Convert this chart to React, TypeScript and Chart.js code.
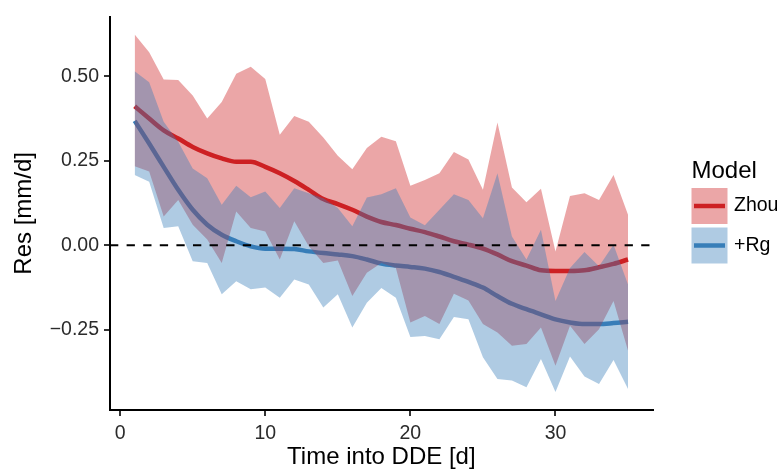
import React, { useEffect, useRef } from "react";
import { Chart, registerables } from "chart.js";

Chart.register(...registerables);

// ---------- data ----------
const days = [1, 2, 3, 4, 5, 6, 7, 8, 9, 10, 11, 12, 13, 14, 15, 16, 17, 18, 19, 20, 21, 22, 23, 24, 25, 26, 27, 28, 29, 30, 31, 32, 33, 34, 35];

const zhouUpper = [0.623, 0.571, 0.49, 0.489, 0.443, 0.375, 0.424, 0.507, 0.528, 0.492, 0.327, 0.382, 0.365, 0.319, 0.265, 0.225, 0.288, 0.321, 0.308, 0.176, 0.193, 0.213, 0.276, 0.254, 0.164, 0.363, 0.171, 0.127, 0.167, -0.018, 0.146, 0.154, 0.134, 0.208, 0.09];
const zhouLower = [0.234, 0.218, 0.085, 0.134, 0.061, 0.017, -0.052, 0.1, 0.051, 0.041, -0.042, 0.071, -0.003, -0.052, -0.045, -0.15, -0.081, -0.052, -0.067, -0.228, -0.209, -0.233, -0.143, -0.163, -0.233, -0.258, -0.297, -0.292, -0.243, -0.356, -0.238, -0.292, -0.248, -0.165, -0.312];
const zhouFit = [0.411, 0.375, 0.34, 0.316, 0.291, 0.272, 0.257, 0.247, 0.247, 0.232, 0.213, 0.19, 0.164, 0.137, 0.122, 0.105, 0.085, 0.069, 0.06, 0.049, 0.039, 0.026, 0.012, 0.002, -0.01, -0.027, -0.047, -0.06, -0.074, -0.076, -0.076, -0.074, -0.065, -0.055, -0.042];

const rgUpper = [0.515, 0.482, 0.365, 0.306, 0.227, 0.198, 0.12, 0.176, 0.142, 0.159, 0.11, 0.169, 0.154, 0.139, 0.11, 0.056, 0.141, 0.151, 0.169, 0.082, 0.059, 0.105, 0.151, 0.134, 0.08, 0.213, 0.026, -0.042, 0.046, -0.165, -0.067, -0.02, -0.062, 0.002, -0.116];
const rgLower = [0.208, 0.188, 0.051, 0.056, -0.047, -0.052, -0.145, -0.106, -0.13, -0.125, -0.155, -0.101, -0.116, -0.184, -0.145, -0.243, -0.17, -0.126, -0.155, -0.271, -0.268, -0.278, -0.212, -0.219, -0.331, -0.395, -0.4, -0.42, -0.336, -0.434, -0.329, -0.388, -0.41, -0.339, -0.425];
const rgFit = [0.368, 0.301, 0.232, 0.164, 0.105, 0.061, 0.031, 0.012, -0.003, -0.01, -0.01, -0.011, -0.018, -0.023, -0.027, -0.032, -0.042, -0.054, -0.06, -0.064, -0.069, -0.079, -0.093, -0.108, -0.125, -0.15, -0.173, -0.189, -0.204, -0.219, -0.228, -0.233, -0.233, -0.23, -0.226];

const xTicks = [0, 10, 20, 30];
const yTicks = [-0.25, 0, 0.25, 0.5];
const xRange = [-0.7, 36.7];
const yRange = [-0.487, 0.676];
const referenceLine = [0];

const seriesNames = ["Zhou", "+Rg"];
const legendTitle = "Model";
const xTitle = "Time into DDE [d]";
const yTitle = "Res [mm/d]";

// ---------- styles ----------
const FONT = '"Liberation Sans", Arial, Helvetica, sans-serif';
const RED = "205, 32, 35";
const BLUE = "55, 126, 184";
const seriesColors = [RED, BLUE];
const RIBBON_ALPHA = 0.4;

const W = 781;
const H = 469;

const pts = (ys: number[]) => days.map((d, i) => ({ x: d, y: ys[i] }));

const legendPlugin = {
  id: "ggLegend",
  afterDraw(chart: any) {
    const ctx = chart.ctx;
    ctx.save();
    ctx.fillStyle = "#000";
    ctx.font = `24px ${FONT}`;
    ctx.textAlign = "left";
    ctx.textBaseline = "alphabetic";
    ctx.fillText(legendTitle, 691.5, 178);
    seriesNames.forEach((name, i) => {
      const y0 = 188 + i * 39.5;
      ctx.fillStyle = `rgba(${seriesColors[i]}, ${RIBBON_ALPHA})`;
      ctx.fillRect(691.5, y0, 36, 36);
      ctx.strokeStyle = `rgb(${seriesColors[i]})`;
      ctx.lineWidth = 4.5;
      ctx.lineCap = "butt";
      ctx.beginPath();
      ctx.moveTo(694, y0 + 18);
      ctx.lineTo(725, y0 + 18);
      ctx.stroke();
      ctx.fillStyle = "#000";
      ctx.font = `19.5px ${FONT}`;
      ctx.textBaseline = "middle";
      ctx.fillText(name, 734, y0 + 18);
    });
    ctx.restore();
  },
};

export default function App() {
  const ref = useRef<HTMLCanvasElement | null>(null);

  useEffect(() => {
    if (!ref.current) return;
    const ribbonSets = [
      { up: zhouUpper, lo: zhouLower, color: RED, order: 2 },
      { up: rgUpper, lo: rgLower, color: BLUE, order: 1 },
    ];
    const datasets: any[] = [];
    ribbonSets.forEach((r, i) => {
      datasets.push({
        label: seriesNames[i] + " upper",
        data: pts(r.up),
        borderWidth: 0,
        borderColor: "transparent",
        backgroundColor: `rgba(${r.color}, ${RIBBON_ALPHA})`,
        fill: "+1",
        tension: 0,
        pointRadius: 0,
        order: r.order,
      });
      datasets.push({
        label: seriesNames[i] + " lower",
        data: pts(r.lo),
        borderWidth: 0,
        borderColor: "transparent",
        backgroundColor: "transparent",
        fill: false,
        tension: 0,
        pointRadius: 0,
        order: r.order,
      });
    });
    [zhouFit, rgFit].forEach((fit, i) => {
      datasets.push({
        label: seriesNames[i],
        data: pts(fit),
        borderColor: `rgb(${seriesColors[i]})`,
        borderWidth: 4.5,
        fill: false,
        cubicInterpolationMode: "monotone",
        pointRadius: 0,
        order: 3,
      });
    });
    datasets.push({
      label: "zero",
      data: [
        { x: xRange[0], y: referenceLine[0] },
        { x: xRange[1], y: referenceLine[0] },
      ],
      borderColor: "#000",
      borderWidth: 2,
      borderDash: [8.3, 8.3],
      fill: false,
      pointRadius: 0,
      order: 0,
    });

    const fmtY = (v: number) => {
      const s = Math.abs(v).toFixed(2);
      return v < 0 ? "\u2212" + s : s;
    };

    const chart = new Chart(ref.current, {
      type: "line",
      data: { datasets },
      options: {
        animation: false,
        responsive: false,
        maintainAspectRatio: false,
        layout: { padding: { top: 14, right: W - 652.7, bottom: 0, left: 0 } },
        plugins: {
          legend: { display: false },
          tooltip: { enabled: false },
          title: { display: false },
        },
        elements: { point: { radius: 0 } },
        scales: {
          x: {
            type: "linear",
            min: xRange[0],
            max: xRange[1],
            afterBuildTicks: (s: any) => {
              s.ticks = xTicks.map((v) => ({ value: v }));
            },
            afterFit: (s: any) => {
              s.height = H - 410;
            },
            grid: {
              display: true,
              drawOnChartArea: false,
              drawTicks: true,
              tickLength: 6,
              color: "#333",
              lineWidth: 2,
            },
            border: { display: true, color: "#000", width: 2 },
            ticks: {
              font: { family: FONT, size: 19.5 },
              color: "#2b2b2b",
              padding: 6,
              maxRotation: 0,
              autoSkip: false,
              callback: (v: any) => String(v),
            },
            title: {
              display: true,
              text: xTitle,
              color: "#000",
              font: { family: FONT, size: 24, lineHeight: 1 },
              padding: { top: 0, bottom: 0 },
            },
          },
          y: {
            type: "linear",
            min: yRange[0],
            max: yRange[1],
            afterBuildTicks: (s: any) => {
              s.ticks = yTicks.map((v) => ({ value: v }));
            },
            afterFit: (s: any) => {
              s.width = 110;
            },
            grid: {
              display: true,
              drawOnChartArea: false,
              drawTicks: true,
              tickLength: 6,
              color: "#333",
              lineWidth: 2,
            },
            border: { display: true, color: "#000", width: 2 },
            ticks: {
              font: { family: FONT, size: 19.5 },
              color: "#2b2b2b",
              padding: 5,
              autoSkip: false,
              callback: (v: any) => fmtY(Number(v)),
            },
            title: {
              display: true,
              text: yTitle,
              color: "#000",
              font: { family: FONT, size: 24, lineHeight: 1 },
              padding: { top: 12, bottom: 0 },
            },
          },
        },
      },
      plugins: [legendPlugin],
    } as any);
    return () => chart.destroy();
  }, []);

  return (
    <div style={{ position: "absolute", left: 0, top: 0, width: W, height: H, background: "#fff" }}>
      <canvas ref={ref} width={W} height={H} style={{ display: "block", width: W, height: H }} />
    </div>
  );
}
